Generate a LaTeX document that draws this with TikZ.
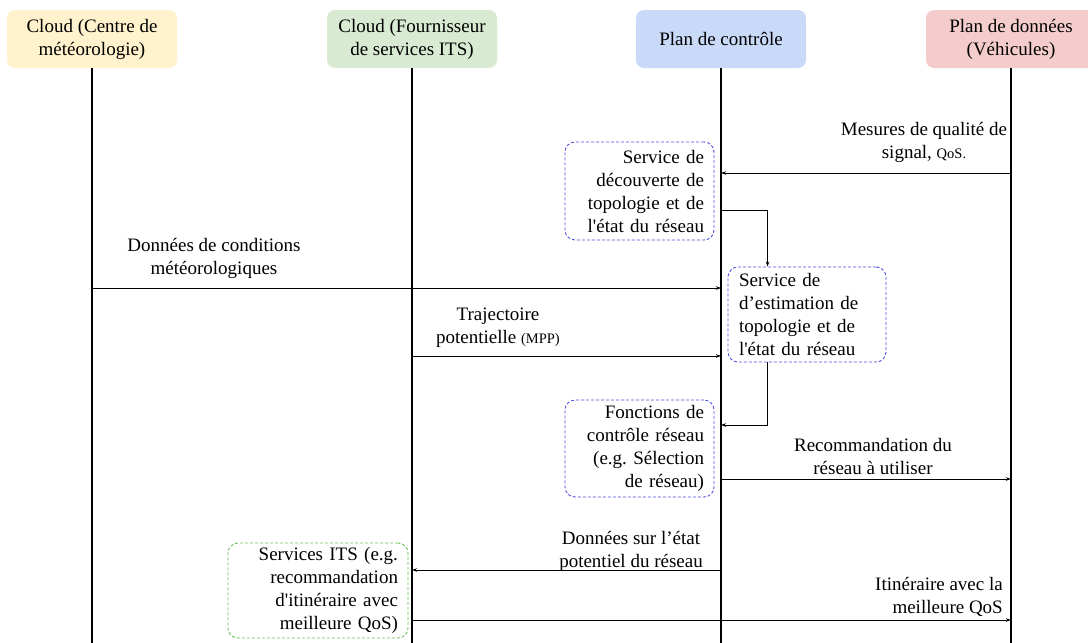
\documentclass[tikz,border=0pt]{standalone}
\usepackage{fontspec}
\setmainfont{Liberation Serif}
\newfontfamily\rawfont{Liberation Serif}
\newcommand{\apos}{{\rawfont'}}
\usetikzlibrary{arrows.meta}
\definecolor{cOrange}{HTML}{FFF2CC}
\definecolor{cGreen}{HTML}{D9EAD3}
\definecolor{cBlue}{HTML}{C9DAF8}
\definecolor{cRed}{HTML}{F4CCCC}
\definecolor{svcBlue}{HTML}{5050E0}
\definecolor{svcGreen}{HTML}{6DBE5A}
\frenchspacing
\begin{document}
\begin{tikzpicture}[x=1pt,y=-1pt,
  font=\rmfamily\fontsize{19}{23}\selectfont,
  head/.style={rounded corners=8pt, minimum width=170pt, minimum height=58pt, align=center, inner sep=0pt},
  lifeline/.style={line width=1.6pt},
  msg/.style={line width=0.8pt, -{Stealth[length=5pt,width=3.5pt]}},
  svc/.style={draw=svcBlue, dash pattern=on 3pt off 2pt, rounded corners=10pt, line width=0.9pt, inner xsep=10pt, inner ysep=0pt},
  lbl/.style={align=center, inner sep=0pt}]
\useasboundingbox (0,0) rectangle (1088,643);
% headers
\node[head, fill=cOrange] (h1) at (92,39) {Cloud (Centre de\\météorologie)};
\node[head, fill=cGreen] (h2) at (412,39) {Cloud (Fournisseur\\de services ITS)};
\node[head, fill=cBlue] (h3) at (721,39) {Plan de contrôle};
\node[head, fill=cRed] (h4) at (1011,39) {Plan de données\\(Véhicules)};
% lifeline ends
\coordinate (e1) at (92,643);
\coordinate (e2) at (412,643);
\coordinate (e3) at (721,643);
\coordinate (e4) at (1011,643);
\draw[lifeline] (h1.south) -- (e1);
\draw[lifeline] (h2.south) -- (e2);
\draw[lifeline] (h3.south) -- (e3);
\draw[lifeline] (h4.south) -- (e4);
% service boxes
\node[svc, minimum width=149pt, minimum height=98pt, text width=129pt, align=right] (sA) at (639.5,191) {Service de\\découverte de\\topologie et de\\l\apos état du réseau};
\node[svc, minimum width=158pt, minimum height=95pt, text width=136pt, align=left] (sB) at (807,314.5) {Service de\\d’estimation de\\topologie et de\\l\apos état du réseau};
\node[svc, minimum width=149pt, minimum height=97pt, text width=129pt, align=right] (sC) at (639.5,448.5) {Fonctions de\\contrôle réseau\\(e.g. Sélection\\de réseau)};
\node[svc, draw=svcGreen, minimum width=180pt, minimum height=95pt, text width=160pt, align=right] (sD) at (318,590.5) {Services ITS (e.g.\\recommandation\\d\apos itinéraire avec\\meilleure QoS)};
% message points
\coordinate (m1a) at (1011,173);
\coordinate (m1b) at (721,173);
\coordinate (m2a) at (92,288);
\coordinate (m2b) at (721,288);
\coordinate (m3a) at (412,356);
\coordinate (m3b) at (721,356);
\coordinate (m4a) at (721,479);
\coordinate (m4b) at (1011,479);
\coordinate (m5a) at (721,570);
\coordinate (m5b) at (412,570);
\coordinate (m6a) at (412,620);
\coordinate (m6b) at (1011,620);
\coordinate (q1) at (721,210);
\coordinate (q2) at (721,425);
% messages
\draw[msg] (m1a) -- (m1b);
\draw[msg] (m2a) -- (m2b);
\draw[msg] (m3a) -- (m3b);
\draw[msg] (m4a) -- (m4b);
\draw[msg] (m5a) -- (m5b);
\draw[msg] (m6a) -- (m6b);
\draw[msg] (q1) -| ([xshift=40pt]sB.north west);
\draw[msg] ([xshift=40pt]sB.south west) |- (q2);
% labels
\node[lbl] (l1) at (924,142) {Mesures de qualité de\\signal, {\fontsize{14.5}{23}\selectfont QoS.}};
\node[lbl] (l2) at (214,258) {Données de conditions\\météorologiques};
\node[lbl] (l3) at (498,328) {Trajectoire\\potentielle {\fontsize{14.5}{23}\selectfont (MPP)}};
\node[lbl] (l4) at (873,456) {Recommandation du\\réseau à utiliser};
\node[lbl] (l5) at (631,551) {Données sur l’état\\potentiel du réseau};
\node[lbl, align=right, anchor=east] (l6) at (1003,597) {Itinéraire avec la\\meilleure QoS};
\end{tikzpicture}
\end{document}
